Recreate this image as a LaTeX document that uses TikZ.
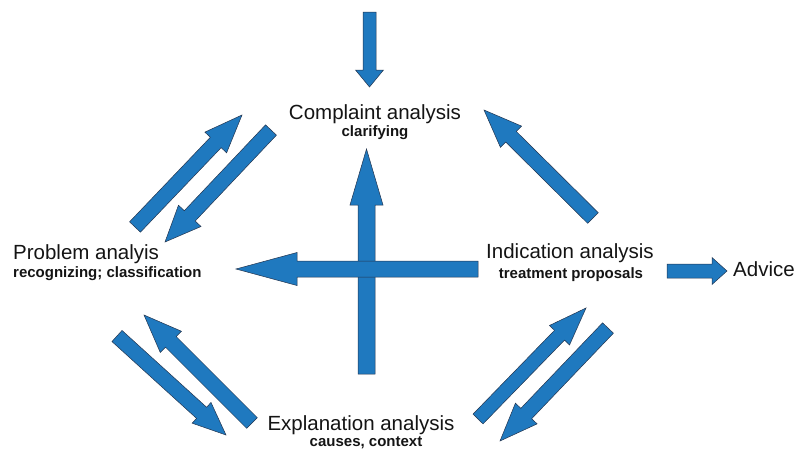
\documentclass[tikz,border=0pt]{standalone}
\usepackage{fontspec}
\setmainfont{Liberation Sans}
\usetikzlibrary{calc}
\definecolor{arrowblue}{RGB}{31,121,191}
\definecolor{arrowedge}{RGB}{35,52,78}
\definecolor{labeltext}{RGB}{20,20,20}
% block arrow: [half shaft:half head:head length](tail)(tip)
\def\blockarrow[#1:#2:#3](#4)(#5){%
  \coordinate (hb) at ($(#5)!#3!(#4)$);
  \draw[fill=arrowblue, draw=arrowedge, line width=0.5pt, line join=miter]
    ($(#4)!#1!90:(#5)$) -- ($(hb)!#1!90:(#5)$) -- ($(hb)!#2!90:(#5)$) -- (#5)
    -- ($(hb)!#2!-90:(#5)$) -- ($(hb)!#1!-90:(#5)$) -- ($(#4)!#1!-90:(#5)$) -- cycle;}
\tikzset{
  heading/.style={font=\fontsize{20.5}{24}\selectfont, text=labeltext, inner sep=0pt, anchor=base},
  detail/.style={font=\fontsize{15}{18}\selectfont\bfseries, text=labeltext, inner sep=0pt, anchor=base},
}

\begin{document}
\begin{tikzpicture}[x=1pt, y=-1pt]
	%%%%% START %%%%%
	\useasboundingbox (0, 0) rectangle (798, 450);

	% labels
	\node[heading] (complaint) at (375, 119) {Complaint analysis};
	\node[detail] (complaint-sub) at (375, 136) {clarifying};
	\node[heading, anchor=base west] (problem) at (13, 259) {Problem analyis};
	\node[detail, anchor=base west] (problem-sub) at (13, 277) {recognizing; classification};
	\node[heading] (indication) at (570, 258) {Indication analysis};
	\node[detail] (indication-sub) at (571, 278) {treatment proposals};
	\node[heading] (explanation) at (361, 430) {Explanation analysis};
	\node[detail] (explanation-sub) at (366, 446) {causes, context};
	\node[heading, anchor=base west] (advice) at (733, 276) {Advice};

	% arrow ends
	\coordinate (in-a) at (369.5, 12);   \coordinate (in-b) at (369.5, 87);
	\coordinate (up-a) at (366.5, 374);  \coordinate (up-b) at (366.5, 149);
	\coordinate (left-a) at (478, 269);  \coordinate (left-b) at (236, 269);
	\coordinate (out-a) at (667, 271);   \coordinate (out-b) at (727, 271);
	\coordinate (pc-a) at (135, 227);    \coordinate (pc-b) at (242, 115);
	\coordinate (cp-a) at (271, 130);    \coordinate (cp-b) at (165, 242);
	\coordinate (ic-a) at (593, 218);    \coordinate (ic-b) at (484, 110);
	\coordinate (pe-a) at (117, 336);    \coordinate (pe-b) at (226, 435);
	\coordinate (ep-a) at (252, 423);    \coordinate (ep-b) at (144, 315);
	\coordinate (ei-a) at (478, 419);    \coordinate (ei-b) at (586, 308);
	\coordinate (ie-a) at (608, 328);    \coordinate (ie-b) at (500, 441);

	% straight arrows
	\blockarrow[6.5pt:14pt:17pt](in-a)(in-b)
	\blockarrow[8.5pt:16.5pt:56pt](up-a)(up-b)
	\blockarrow[8pt:16.5pt:61pt](left-a)(left-b)
	\blockarrow[7pt:13.5pt:15pt](out-a)(out-b)

	% diagonal arrows
	\blockarrow[7.5pt:15pt:38pt](pc-a)(pc-b)
	\blockarrow[7.5pt:15.5pt:36pt](cp-a)(cp-b)
	\blockarrow[7.5pt:15pt:38pt](ic-a)(ic-b)
	\blockarrow[7.5pt:14pt:33pt](pe-a)(pe-b)
	\blockarrow[7.5pt:15pt:38pt](ep-a)(ep-b)
	\blockarrow[7pt:14pt:38pt](ei-a)(ei-b)
	\blockarrow[7.5pt:15pt:38pt](ie-a)(ie-b)

	%%%%% END %%%%%
\end{tikzpicture}
\end{document}
